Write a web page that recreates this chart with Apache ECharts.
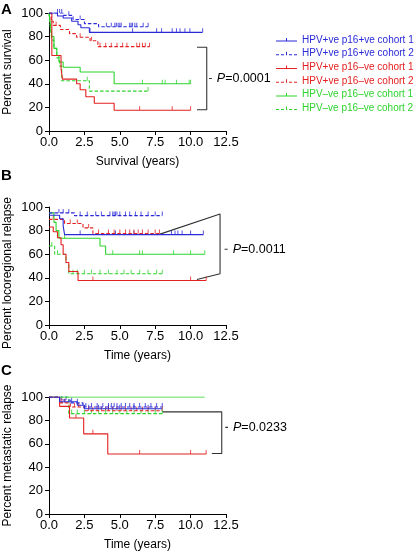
<!DOCTYPE html>
<html><head><meta charset="utf-8">
<script src="https://cdn.jsdelivr.net/npm/echarts@6/dist/echarts.min.js"></script>
<style>html,body{margin:0;padding:0;background:#fff}#c{width:417px;height:552px}</style>
</head><body><div id="c"></div>
<script>
// ---------- data ----------
const seriesNames = ['HPV+ve p16+ve cohort 1','HPV+ve p16+ve cohort 2','HPV+ve p16\u2013ve cohort 1','HPV+ve p16\u2013ve cohort 2','HPV\u2013ve p16\u2013ve cohort 1','HPV\u2013ve p16\u2013ve cohort 2'];
const xTicks = [0, 2.5, 5, 7.5, 10, 12.5];
const yTicks = [0, 20, 40, 60, 80, 100];
const panelLetters = ['A','B','C'];
const yTitles = ['Percent survival','Percent locoregional relapse','Percent metastatic relapse'];
const xTitles = ['Survival (years)','Time (years)','Time (years)'];
const pValues = ['0.0001','0.0011','0.0233'];

// Panel A (survival): event times, survival values, last follow-up, censor times
const A_bs_t = [0, 0.6, 1.0, 1.6, 2.05, 2.25, 2.85];
const A_bs_s = [100, 97.5, 95.8, 93, 90, 87.5, 83.6];
const A_bs_end = 10.85;
const A_bs_c = [2.9, 5.9, 7.6, 7.95, 8.7, 9.0, 9.25, 9.6, 9.95, 10.85];
const A_bd_t = [0, 1.0, 1.7, 2.5, 3.5];
const A_bd_s = [100, 98, 94.5, 91, 88.4];
const A_bd_end = 7.0;
const A_bd_c = [0.6, 0.75, 0.9, 1.4, 2.2, 4.05, 4.4, 4.65, 4.76, 4.88, 5.0, 5.1, 5.7, 5.8, 5.9, 6.06, 6.2, 6.65, 7.0];
const A_rs_t = [0, 0.2, 0.85, 0.95, 1.95, 2.2, 2.6, 3.2, 4.6];
const A_rs_s = [100, 64, 53, 44, 40, 35, 29, 23.5, 17.6];
const A_rs_end = 10.0;
const A_rs_c = [6.4, 8.7, 10.0];
const A_rd_t = [0, 0.15, 0.3, 0.8, 1.45, 1.95, 2.9, 3.45];
const A_rd_s = [100, 93, 89.5, 86, 82.5, 79.5, 76.5, 71.5];
const A_rd_end = 7.1;
const A_rd_c = [0.5, 2.2, 3.0, 3.6, 4.0, 4.4, 4.8, 5.2, 5.5, 6.2, 6.4, 6.6, 6.8, 7.1];
const A_gs_t = [0, 0.1, 0.2, 0.35, 0.55, 0.7, 1.0, 2.2, 4.6];
const A_gs_s = [100, 90, 80, 70, 64, 58.5, 54, 50, 40];
const A_gs_end = 10.0;
const A_gs_c = [6.6, 8.0, 8.2, 9.0, 9.9, 10.0];
const A_gd_t = [0, 0.1, 0.2, 0.35, 0.55, 0.75, 0.9, 2.85];
const A_gd_s = [100, 87, 77, 70, 62, 55, 42.6, 33.8];
const A_gd_end = 7.0;
const A_gd_c = [2.7, 7.0];

// Panel B (locoregional relapse)
const B_bs_t = [0, 0.75, 1.0, 1.1];
const B_bs_s = [93, 90, 84, 76.6];
const B_bs_end = 10.9;
const B_bs_c = [2.2, 4.7, 6.0, 8.65, 8.9, 9.1, 9.4, 10.0, 10.9];
const B_bd_t = [0, 1.8];
const B_bd_s = [95, 92.7];
const B_bd_end = 8.0;
const B_bd_c = [0.7, 1.0, 1.4, 2.2, 2.7, 3.3, 3.7, 4.3, 4.5, 4.6, 4.7, 4.8, 5.0, 5.4, 5.7, 6.1, 6.5, 7.0, 7.5, 8.0];
const B_rs_t = [0, 0.3, 0.6, 0.85, 1.0, 1.2, 1.4, 2.05];
const B_rs_s = [83, 79, 74, 68, 60, 53, 45.4, 37.7];
const B_rs_end = 11.1;
const B_rs_c = [3.1, 10.0, 11.1];
const B_rd_t = [0, 1.1, 2.4, 3.1];
const B_rd_s = [89.5, 86, 82.3, 77.5];
const B_rd_end = 7.8;
const B_rd_c = [0.3, 1.5, 2.0, 2.8, 3.5, 4.2, 4.6, 5.0, 5.4, 5.7, 6.0, 6.3, 6.6, 7.0, 7.5, 7.8];
const B_gs_t = [0, 0.35, 0.5, 0.7, 3.6, 4.0];
const B_gs_s = [95, 87, 80, 73.5, 67, 60];
const B_gs_end = 11.0;
const B_gs_c = [1.1, 4.5, 6.4, 6.6, 8.8, 10.0, 11.0];
const B_gd_t = [0, 0.4, 1.2, 1.4];
const B_gd_s = [67, 60, 53, 43.4];
const B_gd_end = 8.0;
const B_gd_c = [0.2, 0.6, 1.7, 2.0, 2.5, 3.0, 3.6, 4.2, 4.8, 5.3, 5.8, 6.4, 7.0, 7.6, 8.0];

// Panel C (metastatic relapse)
const C_bs_t = [0, 0.75, 2.0, 2.5];
const C_bs_s = [100, 96, 93, 90];
const C_bs_end = 8.0;
const C_bs_c = [1.6, 2.8, 3.5, 4.2, 5.0, 6.0, 7.0];
const C_bd_t = [0, 0.75, 1.5, 2.4];
const C_bd_s = [100, 97.5, 95, 91.5];
const C_bd_end = 8.0;
const C_bd_c = [0.9, 1.2, 2.0, 2.6, 3.0, 3.4, 3.8, 4.2, 4.4, 4.6, 4.8, 5.1, 5.4, 5.7, 6.0, 6.4, 6.8, 7.2, 7.6, 8.0];
const C_rs_t = [0, 0.75, 1.45, 2.45, 4.15];
const C_rs_s = [100, 92, 82, 68.5, 51.3];
const C_rs_end = 11.1;
const C_rs_c = [1.9, 3.1, 6.4, 10.0, 11.1];
const C_rd_t = [0, 0.75, 1.5, 2.5];
const C_rd_s = [100, 95, 91.5, 88.2];
const C_rd_end = 8.0;
const C_rd_c = [0.9, 1.1, 1.8, 2.1, 2.8, 3.1, 3.4, 3.7, 4.0, 4.2, 4.5, 4.8, 5.1, 5.4, 5.8, 6.2, 6.6, 7.0, 7.5, 8.0];
const C_gs_t = [0];
const C_gs_s = [100];
const C_gs_end = 11.0;
const C_gs_c = [];
const C_gd_t = [0, 1.4];
const C_gd_s = [100, 85.8];
const C_gd_end = 8.0;
const C_gd_c = [1.6, 2.0, 2.5, 3.0, 3.5, 4.0, 4.5, 5.0, 5.5, 6.0, 6.5, 7.0, 7.5, 8.0];

// Brackets for log-rank P (data coords)
const A_bracket = [[10.45, 71], [11.14, 71], [11.14, 18], [10.45, 18]];
const A_tick = [[11.3, 44.5], [11.5, 44.5]];
const B_bracket = [[7.84, 77], [12.08, 94], [12.08, 43.4], [10.45, 38.6]];
const B_tick = [[12.4, 64.2], [12.62, 64.2]];
const C_bracket = [[8.0, 87.3], [12.2, 87.3], [12.2, 51.7], [11.5, 51.7]];
const C_tick = [[12.45, 74], [12.68, 74]];

// ---------- chart ----------
const colors = ['#2a2ad8','#2a2ad8','#e42020','#e42020','#2ed42e','#2ed42e'];
const dashedFlags = [false, true, false, true, false, true];
const font = 'Liberation Sans, Arial, Helvetica, sans-serif';

const panels = [
  {t:[A_bs_t,A_bd_t,A_rs_t,A_rd_t,A_gs_t,A_gd_t], s:[A_bs_s,A_bd_s,A_rs_s,A_rd_s,A_gs_s,A_gd_s], e:[A_bs_end,A_bd_end,A_rs_end,A_rd_end,A_gs_end,A_gd_end], c:[A_bs_c,A_bd_c,A_rs_c,A_rd_c,A_gs_c,A_gd_c], br:A_bracket, tk:A_tick},
  {t:[B_bs_t,B_bd_t,B_rs_t,B_rd_t,B_gs_t,B_gd_t], s:[B_bs_s,B_bd_s,B_rs_s,B_rd_s,B_gs_s,B_gd_s], e:[B_bs_end,B_bd_end,B_rs_end,B_rd_end,B_gs_end,B_gd_end], c:[B_bs_c,B_bd_c,B_rs_c,B_rd_c,B_gs_c,B_gd_c], br:B_bracket, tk:B_tick},
  {t:[C_bs_t,C_bd_t,C_rs_t,C_rd_t,C_gs_t,C_gd_t], s:[C_bs_s,C_bd_s,C_rs_s,C_rd_s,C_gs_s,C_gd_s], e:[C_bs_end,C_bd_end,C_rs_end,C_rd_end,C_gs_end,C_gd_end], c:[C_bs_c,C_bd_c,C_rs_c,C_rd_c,C_gs_c,C_gd_c], br:C_bracket, tk:C_tick}
];

const gridTops = [13, 207, 397];
const gridHeight = 118;

function stepValue(t, s, x) {
  let v = s[0];
  for (let i = 0; i < t.length; i++) if (t[i] <= x) v = s[i];
  return v;
}

const grids = [], xAxes = [], yAxes = [], series = [];
panels.forEach((p, g) => {
  grids.push({left: 49, width: 177, top: gridTops[g], height: gridHeight});
  xAxes.push({
    type: 'value', gridIndex: g, min: 0, max: 12.5, interval: 2.5,
    axisLine: {lineStyle: {color: '#000', width: 1}},
    axisTick: {length: 4, lineStyle: {color: '#000'}},
    splitLine: {show: false},
    axisLabel: {color: '#000', fontSize: 13, fontFamily: font, margin: 5, formatter: v => v.toFixed(1)},
    name: xTitles[g], nameLocation: 'middle', nameGap: 25,
    nameTextStyle: {color: '#000', fontSize: 12, fontFamily: font}
  });
  yAxes.push({
    type: 'value', gridIndex: g, min: 0, max: 100, interval: 20,
    axisLine: {show: true, lineStyle: {color: '#000', width: 1}},
    axisTick: {show: true, length: 4, lineStyle: {color: '#000'}},
    splitLine: {show: false},
    axisLabel: {color: '#000', fontSize: 13, fontFamily: font, margin: 6},
    name: yTitles[g], nameLocation: 'middle', nameGap: 35,
    nameTextStyle: {color: '#000', fontSize: 12, fontFamily: font, padding: g === 1 ? [0, 14, 0, 0] : 0}
  });
  for (let k = 0; k < 6; k++) {
    const t = p.t[k], s = p.s[k];
    const data = t.map((x, i) => [x, s[i]]);
    data.push([p.e[k], s[s.length - 1]]);
    series.push({
      type: 'line', name: seriesNames[k], xAxisIndex: g, yAxisIndex: g,
      data: data, step: 'end', showSymbol: false, symbol: 'none', silent: true, animation: false,
      lineStyle: {color: colors[k], width: 1.1, type: dashedFlags[k] ? [3.5, 2] : 'solid'},
      itemStyle: {color: colors[k]}, z: 3 + (6 - k) * 0.01
    });
    series.push({
      type: 'scatter', name: seriesNames[k], xAxisIndex: g, yAxisIndex: g,
      data: p.c[k].map(x => [x, stepValue(t, s, x)]),
      symbol: 'rect', symbolSize: [1, 4], symbolOffset: [0, -2], silent: true, animation: false,
      itemStyle: {color: colors[k]}, z: 3
    });
  }
  series.push({
    type: 'line', xAxisIndex: g, yAxisIndex: g, data: p.br, symbol: 'none', clip: false, silent: true, animation: false,
    lineStyle: {color: '#333', width: 1.1}
  });
  series.push({
    type: 'line', xAxisIndex: g, yAxisIndex: g, data: p.tk, symbol: 'none', clip: false, silent: true, animation: false,
    lineStyle: {color: '#333', width: 1.1},
    endLabel: {show: true, distance: 5, formatter: '{i|P}=' + pValues[g], color: '#000', fontSize: 12.5, fontFamily: font,
      rich: {i: {fontStyle: 'italic', fontSize: 12.5, fontFamily: font, color: '#000'}}}
  });
});

const solidIcon = 'path://M0,3.5h21v1h-21z M10,1h1v3h-1z';
const dashedIcon = 'path://M0,3.5h3v1h-3z M5,3.5h3v1h-3z M10,1h1v3.5h-1z M13,3.5h3v1h-3z M18,3.5h3v1h-3z';

const chart = echarts.init(document.getElementById('c'), null, {renderer: 'canvas'});
chart.setOption({
  animation: false,
  backgroundColor: '#fff',
  grid: grids, xAxis: xAxes, yAxis: yAxes, series: series,
  legend: {
    left: 271, top: 28, orient: 'vertical', itemWidth: 21, itemHeight: 5, itemGap: 0,
    selectedMode: false,
    data: seriesNames.map((n, k) => ({name: n, icon: dashedFlags[k] ? dashedIcon : solidIcon,
      textStyle: {color: colors[k]}})),
    textStyle: {fontSize: 10, fontFamily: font, lineHeight: 13.7, padding: 0}
  },
  graphic: panelLetters.map((L, i) => ({
    type: 'text', left: 1, top: [2, 168, 363][i],
    style: {text: L, font: 'bold 15px ' + font, fill: '#000'}
  }))
});
</script>
</body></html>
